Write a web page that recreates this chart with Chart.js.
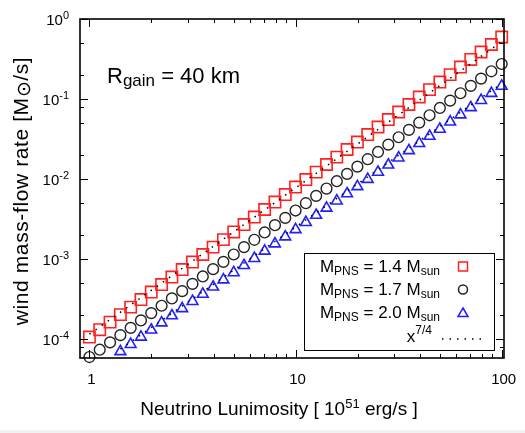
<!DOCTYPE html>
<html>
<head>
<meta charset="utf-8">
<script src="https://cdn.jsdelivr.net/npm/chart.js@4/dist/chart.umd.min.js"></script>
<style>
  html, body { margin: 0; padding: 0; background: #f2f2f2; }
  #wrap { width: 525px; height: 430px; background: #fff; }
</style>
</head>
<body>
<div id="wrap"><canvas id="windChart" width="525" height="430"></canvas></div>
<script>
// neutrino luminosity [1e51 erg/s]
const luminosity = [1, 1.122, 1.259, 1.413, 1.585, 1.778, 1.995, 2.239, 2.512, 2.818,
  3.162, 3.548, 3.981, 4.467, 5.012, 5.623, 6.310, 7.079, 7.943, 8.913,
  10, 11.22, 12.59, 14.13, 15.85, 17.78, 19.95, 22.39, 25.12, 28.18,
  31.62, 35.48, 39.81, 44.67, 50.12, 56.23, 63.10, 70.79, 79.43, 89.13, 100];

// wind mass-flow rate [Msun/s]
const mdot14 = [1.06e-4, 1.31e-4, 1.63e-4, 2.02e-4, 2.51e-4, 3.12e-4, 3.87e-4, 4.80e-4, 5.96e-4, 7.39e-4,
  9.17e-4, 1.14e-3, 1.41e-3, 1.75e-3, 2.18e-3, 2.70e-3, 3.35e-3, 4.16e-3, 5.16e-3, 6.40e-3,
  7.94e-3, 9.86e-3, 1.22e-2, 1.52e-2, 1.88e-2, 2.34e-2, 2.90e-2, 3.60e-2, 4.47e-2, 5.54e-2,
  6.88e-2, 8.54e-2, 0.106, 0.131, 0.163, 0.202, 0.251, 0.312, 0.387, 0.480, 0.596];
const mdot17 = [5.96e-5, 7.36e-5, 9.08e-5, 1.12e-4, 1.38e-4, 1.71e-4, 2.11e-4, 2.61e-4, 3.22e-4, 3.97e-4,
  4.90e-4, 6.06e-4, 7.48e-4, 9.23e-4, 1.14e-3, 1.41e-3, 1.74e-3, 2.15e-3, 2.65e-3, 3.27e-3,
  4.04e-3, 4.99e-3, 6.16e-3, 7.60e-3, 9.39e-3, 1.16e-2, 1.43e-2, 1.77e-2, 2.18e-2, 2.69e-2,
  3.33e-2, 4.11e-2, 5.07e-2, 6.26e-2, 7.73e-2, 9.54e-2, 0.118, 0.146, 0.180, 0.222, 0.274];
const mdot20 = [null, null, null, 6.98e-5, 8.59e-5, 1.06e-4, 1.30e-4, 1.60e-4, 1.96e-4, 2.41e-4,
  2.96e-4, 3.64e-4, 4.48e-4, 5.51e-4, 6.77e-4, 8.32e-4, 1.02e-3, 1.26e-3, 1.55e-3, 1.90e-3,
  2.34e-3, 2.87e-3, 3.53e-3, 4.34e-3, 5.34e-3, 6.56e-3, 8.07e-3, 9.92e-3, 1.22e-2, 1.50e-2,
  1.84e-2, 2.27e-2, 2.79e-2, 3.43e-2, 4.21e-2, 5.18e-2, 6.36e-2, 7.82e-2, 9.62e-2, 0.118, 0.145];

// x^(7/4) guide lines (end points)
const guideX14 = [1, 100];
const guide14 = [1.15e-4, 0.52];
const guideX20 = [1.413, 100];
const guide20 = [7.5e-5, 0.156];

// ticks
const xMajor = [1, 10, 100];
const xLabels = ['1', '10', '100'];
const xMinor = [2, 3, 4, 5, 6, 7, 8, 9, 20, 30, 40, 50, 60, 70, 80, 90];
const yMajor = [1, 0.1, 0.01, 0.001, 0.0001];
const yExp = ['0', '-1', '-2', '-3', '-4'];
const yMinor = [0.5, 0.2, 0.08, 0.05, 0.02, 0.005, 0.002, 5e-4, 2e-4, 8e-5];

const seriesNames = ['1.4', '1.7', '2.0'];

const FONT = '"Liberation Sans", Arial, sans-serif';
const f = s => s + 'px ' + FONT;
const RED = '#ff2020', BLUE = '#2020ff', DARK = '#222';

function pts(xs, ys) {
  return xs.map((x, i) => ({x: x, y: ys[i]})).filter(p => p.y != null);
}

// draw text made of pieces (sub / superscripts)
function rich(ctx, parts, x, y, align) {
  let w = 0;
  parts.forEach(p => { ctx.font = f(p.s); p.w = ctx.measureText(p.t).width; w += p.w; });
  let cx = align === 'right' ? x - w : align === 'center' ? x - w / 2 : x;
  ctx.textAlign = 'left';
  ctx.textBaseline = 'alphabetic';
  parts.forEach(p => { ctx.font = f(p.s); ctx.fillText(p.t, cx, y + (p.dy || 0)); cx += p.w; });
}

const frame = {
  id: 'frame',
  afterDraw(chart) {
    const {ctx, chartArea: a} = chart;
    const xs = chart.scales.x, ys = chart.scales.y;
    ctx.save();
    ctx.strokeStyle = '#000';
    ctx.fillStyle = '#000';

    // inward ticks on all four sides
    ctx.lineWidth = 1;
    ctx.beginPath();
    const tx = (v, len) => {
      const p = Math.round(xs.getPixelForValue(v)) + 0.5;
      ctx.moveTo(p, a.bottom); ctx.lineTo(p, a.bottom - len);
      ctx.moveTo(p, a.top); ctx.lineTo(p, a.top + len);
    };
    const ty = (v, len) => {
      const p = Math.round(ys.getPixelForValue(v)) + 0.5;
      ctx.moveTo(a.left, p); ctx.lineTo(a.left + len, p);
      ctx.moveTo(a.right, p); ctx.lineTo(a.right - len, p);
    };
    xMajor.forEach(v => tx(v, 8));
    xMinor.forEach(v => tx(v, 4));
    yMajor.forEach(v => ty(v, 8));
    yMinor.forEach(v => ty(v, 4));
    ctx.stroke();

    ctx.lineWidth = 1.6;
    ctx.strokeRect(a.left, a.top, a.right - a.left, a.bottom - a.top);

    // tick labels
    ctx.font = f(15);
    ctx.textAlign = 'center';
    ctx.textBaseline = 'alphabetic';
    xMajor.forEach((v, i) => ctx.fillText(xLabels[i], xs.getPixelForValue(v) + 2, 384));
    yMajor.forEach((v, i) => {
      rich(ctx, [{t: '10', s: 15}, {t: yExp[i], s: 11, dy: -6}], 69, ys.getPixelForValue(v) + 6, 'right');
    });

    // axis titles
    rich(ctx, [{t: 'Neutrino Lunimosity [ 10', s: 19}, {t: '51', s: 13, dy: -7}, {t: ' erg/s ]', s: 19}], 279, 415, 'center');
    ctx.save();
    ctx.translate(28, 191);
    ctx.rotate(-Math.PI / 2);
    ctx.letterSpacing = '0.6px';
    rich(ctx, [{t: 'wind mass-flow rate [M', s: 21}, {t: '\u2299', s: 19, dy: 2}, {t: '/s]', s: 21}], 0, 0, 'center');
    ctx.restore();

    // annotation
    rich(ctx, [{t: 'R', s: 22}, {t: 'gain', s: 17, dy: 3}, {t: ' = 40 km', s: 22}], 107, 83, 'left');

    // legend box
    ctx.lineWidth = 1;
    ctx.strokeRect(304.5, 253.5, 190, 97);
    const rows = [272, 295, 318];
    seriesNames.forEach((m, i) => {
      rich(ctx, [{t: 'M', s: 17}, {t: 'PNS', s: 12, dy: 2.5}, {t: ' = ' + m + ' M', s: 17}, {t: 'sun', s: 12, dy: 2.5}], 440, rows[i], 'right');
    });
    rich(ctx, [{t: 'x', s: 17}, {t: '7/4', s: 12, dy: -8}], 432, 342, 'right');

    const mx = 463;
    ctx.lineWidth = 1.5;
    ctx.strokeStyle = RED;
    ctx.strokeRect(mx - 4.5, 262, 9, 9);
    ctx.strokeStyle = DARK;
    ctx.beginPath(); ctx.arc(mx, 289.5, 4.5, 0, Math.PI * 2); ctx.stroke();
    ctx.strokeStyle = BLUE;
    ctx.beginPath();
    ctx.moveTo(mx, 308); ctx.lineTo(mx + 5, 316.5); ctx.lineTo(mx - 5, 316.5); ctx.closePath();
    ctx.stroke();
    ctx.strokeStyle = '#000';
    ctx.lineWidth = 1.5;
    ctx.setLineDash([1.5, 6]);
    ctx.beginPath(); ctx.moveTo(442, 339); ctx.lineTo(484, 339); ctx.stroke();
    ctx.restore();
  }
};

document.addEventListener('DOMContentLoaded', function () {
  const ctx = document.getElementById('windChart').getContext('2d');
  new Chart(ctx, {
    type: 'scatter',
    data: {
      datasets: [
        {label: 'x^7/4', data: pts(guideX14, guide14), showLine: true, borderColor: '#000',
          borderWidth: 1.5, borderDash: [1.5, 6], pointRadius: 0},
        {label: 'x^7/4 b', data: pts(guideX20, guide20), showLine: true, borderColor: '#000',
          borderWidth: 1.5, borderDash: [1.5, 6], pointRadius: 0},
        {label: 'M=1.4', data: pts(luminosity, mdot14), pointStyle: 'rect', pointRadius: 8,
          borderColor: RED, backgroundColor: 'rgba(0,0,0,0)', borderWidth: 1.6, clip: false},
        {label: 'M=1.7', data: pts(luminosity, mdot17), pointStyle: 'circle', pointRadius: 5.4,
          borderColor: DARK, backgroundColor: 'rgba(0,0,0,0)', borderWidth: 1.4, clip: false},
        {label: 'M=2.0', data: pts(luminosity, mdot20), pointStyle: 'triangle', pointRadius: 6.2,
          borderColor: BLUE, backgroundColor: 'rgba(0,0,0,0)', borderWidth: 1.6, clip: false}
      ]
    },
    options: {
      responsive: false,
      animation: false,
      events: [],
      layout: {padding: {left: 80, right: 21, top: 19, bottom: 72}},
      scales: {
        x: {type: 'logarithmic', min: 0.9, max: 102.6, display: false},
        y: {type: 'logarithmic', min: 5.8e-5, max: 1, display: false}
      },
      plugins: {legend: {display: false}, tooltip: {enabled: false}}
    },
    plugins: [frame]
  });
});
</script>
</body>
</html>
